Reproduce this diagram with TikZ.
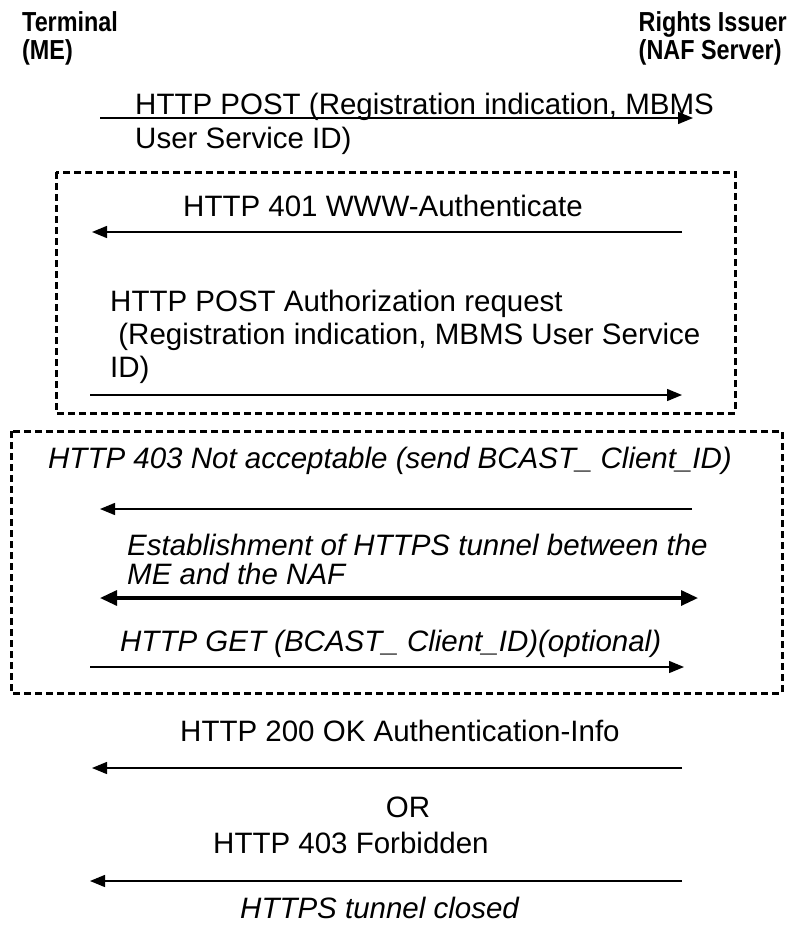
\documentclass[tikz,border=0pt]{standalone}
\usepackage{fontspec}
\setmainfont{Liberation Sans}
\newfontfamily\hdrfont{Liberation Sans}[FakeStretch=0.85]
\usetikzlibrary{arrows.meta}
\begin{document}
\begin{tikzpicture}[x=1pt,y=-1pt,
  hdr/.style={font=\hdrfont\fontsize{27.5}{28}\selectfont\bfseries, inner sep=0pt, align=left},
  msg/.style={font=\fontsize{29.5}{33}\selectfont, inner sep=0pt, align=left},
  imsg/.style={font=\fontsize{29.5}{32}\selectfont\itshape, inner sep=0pt, align=left},
  arr/.style={line width=1.4pt, -{Triangle[length=15pt,width=12pt]}},
  tarr/.style={line width=3.2pt, {Triangle[length=17pt,width=15pt]}-{Triangle[length=17pt,width=15pt]}},
  dbox/.style={line width=3pt, dash pattern=on 7pt off 4pt}
]
\useasboundingbox (0,0) rectangle (789,932);
% headers (anchor = baseline of last line)
\node[hdr, anchor=base west] (term) at (22,59) {Terminal\\(ME)};
\node[hdr, anchor=base east] (ri) at (787,59) {Rights Issuer\\(NAF Server)};
% message 1
\node[msg, font=\fontsize{29.5}{34}\selectfont, anchor=base west] (m1) at (135,148) {HTTP POST (Registration indication, MBMS\\User Service ID)};
\coordinate (a1s) at (100,118); \coordinate (a1e) at (693,118);
\draw[arr] (a1s) -- (a1e);
% box 1
\coordinate (b1a) at (56,172); \coordinate (b1b) at (735,413);
\draw[dbox] (b1a) rectangle (b1b);
\node[msg, anchor=base west] (m2) at (183,216) {HTTP 401 WWW-Authenticate};
\coordinate (a2s) at (682,232); \coordinate (a2e) at (92,232);
\draw[arr] (a2s) -- (a2e);
\node[msg, anchor=base west] (m3) at (110,377) {HTTP POST Authorization request\\\ (Registration indication, MBMS User Service\\ID)};
\coordinate (a3s) at (90,395); \coordinate (a3e) at (682,395);
\draw[arr] (a3s) -- (a3e);
% box 2
\coordinate (b2a) at (11,431); \coordinate (b2b) at (782,693);
\draw[dbox] (b2a) rectangle (b2b);
\node[imsg, anchor=base west] (m4) at (48,468) {HTTP 403 Not acceptable (send BCAST\_ Client\_ID)};
\coordinate (a4s) at (692,509); \coordinate (a4e) at (100,509);
\draw[arr] (a4s) -- (a4e);
\node[imsg, font=\fontsize{29.5}{28.5}\selectfont\itshape, anchor=base west] (m5) at (127,584) {Establishment of HTTPS tunnel between the\\ME and the NAF};
\coordinate (a5s) at (100,598); \coordinate (a5e) at (698,598);
\draw[tarr] (a5s) -- (a5e);
\node[imsg, anchor=base west] (m6) at (120,651) {HTTP GET (BCAST\_ Client\_ID)(optional)};
\coordinate (a6s) at (90,667); \coordinate (a6e) at (684,667);
\draw[arr] (a6s) -- (a6e);
% after boxes
\node[msg, anchor=base west] (m7) at (180,741) {HTTP 200 OK Authentication-Info};
\coordinate (a7s) at (682,768); \coordinate (a7e) at (92,768);
\draw[arr] (a7s) -- (a7e);
\node[msg, anchor=base] (or) at (408,817) {OR};
\node[msg, anchor=base west] (m8) at (213,853) {HTTP 403 Forbidden};
\coordinate (a8s) at (682,881); \coordinate (a8e) at (90,881);
\draw[arr] (a8s) -- (a8e);
\node[imsg, anchor=base west] (m9) at (240,918) {HTTPS tunnel closed};
\end{tikzpicture}
\end{document}
